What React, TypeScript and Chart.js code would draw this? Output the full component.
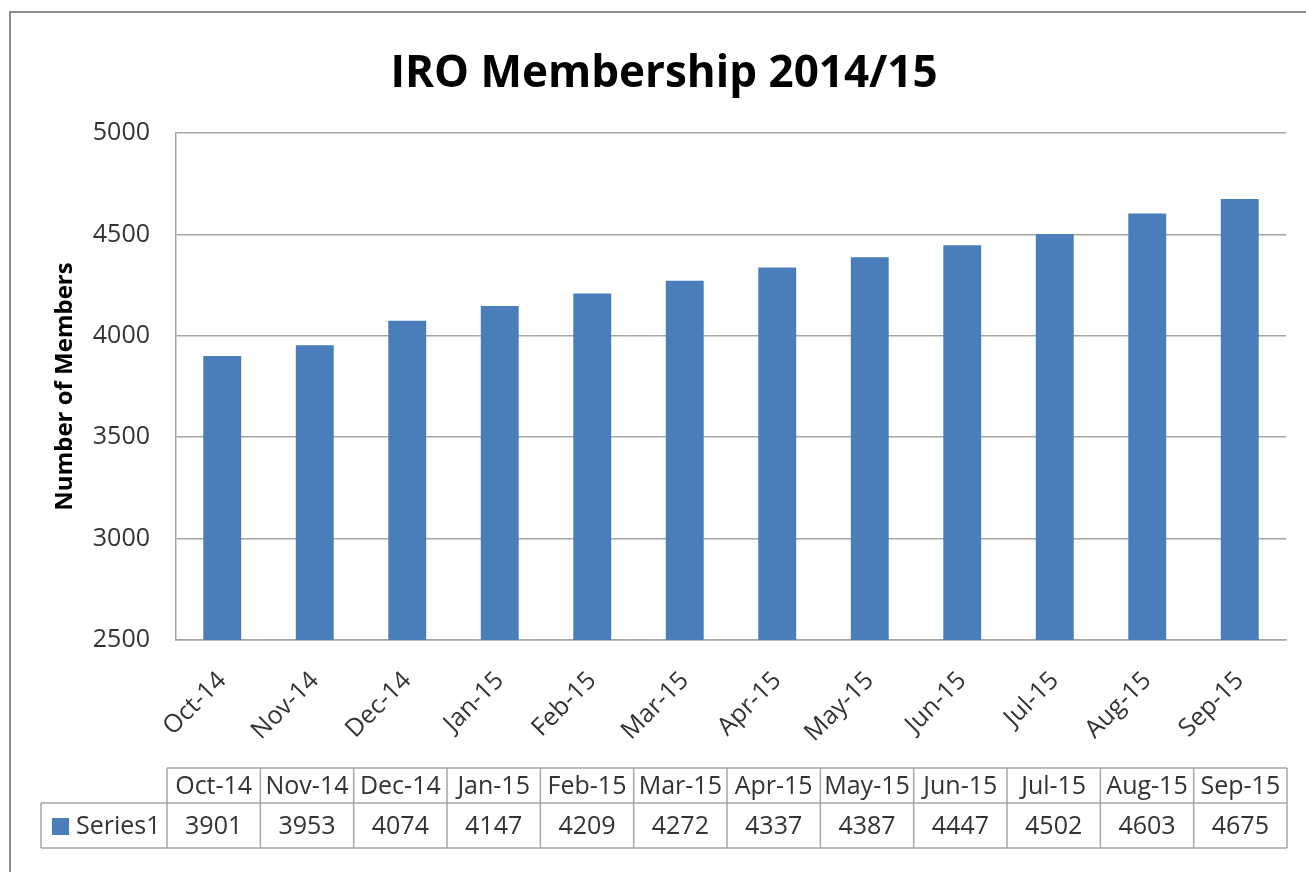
import React, { useEffect, useRef } from "react";
import { Chart, registerables } from "chart.js";

Chart.register(...registerables);

const categories = ["Oct-14", "Nov-14", "Dec-14", "Jan-15", "Feb-15", "Mar-15", "Apr-15", "May-15", "Jun-15", "Jul-15", "Aug-15", "Sep-15"];
const members = [3901, 3953, 4074, 4147, 4209, 4272, 4337, 4387, 4447, 4502, 4603, 4675];
const seriesName = "Series1";
const chartTitle = "IRO Membership 2014/15";
const yAxisTitle = "Number of Members";
const yMin = 2500;
const yMax = 5000;
const yStep = 500;

const BAR = "#4a7ebb";
const GRID = "#a6a6a6";
const TEXT = "#333333";
const FONT = '"Open Sans", "Liberation Sans", sans-serif';

const frame = {
  id: "frame",
  beforeDraw(chart: any) {
    const { ctx, width, height } = chart;
    ctx.save();
    ctx.fillStyle = "#ffffff";
    ctx.fillRect(0, 0, width, height);
    ctx.strokeStyle = "#8c8c8c";
    ctx.lineWidth = 2;
    ctx.beginPath();
    ctx.moveTo(10, height + 2);
    ctx.lineTo(10, 12);
    ctx.lineTo(width + 2, 12);
    ctx.stroke();
    ctx.restore();
  },
};

const dataTable = {
  id: "dataTable",
  afterDraw(chart: any) {
    const { ctx, chartArea } = chart;
    const n = categories.length;
    const left = chartArea.left - 9;
    const right = chartArea.right + 1;
    const colW = (right - left) / n;
    const top = chartArea.bottom + 128;
    const mid = top + 35;
    const bot = mid + 45;
    const labelLeft = 41;
    const line = (x1: number, y1: number, x2: number, y2: number) => {
      ctx.beginPath();
      ctx.moveTo(x1, y1);
      ctx.lineTo(x2, y2);
      ctx.stroke();
    };
    ctx.save();
    ctx.strokeStyle = GRID;
    ctx.lineWidth = 1.5;
    line(left, top, right, top);
    line(labelLeft, mid, right, mid);
    line(labelLeft, bot, right, bot);
    line(labelLeft, mid, labelLeft, bot);
    for (let i = 0; i <= n; i++) {
      const x = left + i * colW;
      line(x, top, x, bot);
    }
    ctx.fillStyle = TEXT;
    ctx.font = `25px ${FONT}`;
    ctx.textAlign = "center";
    ctx.textBaseline = "middle";
    for (let i = 0; i < n; i++) {
      const cx = left + (i + 0.5) * colW;
      ctx.fillText(categories[i], cx, (top + mid) / 2 + 1);
      ctx.fillText(String(members[i]), cx, (mid + bot) / 2 + 1);
    }
    ctx.fillStyle = BAR;
    ctx.fillRect(52, mid + 15, 17, 17);
    ctx.fillStyle = TEXT;
    ctx.textAlign = "left";
    ctx.fillText(seriesName, 76, (mid + bot) / 2 + 1);
    ctx.restore();
  },
};

export default function App() {
  const ref = useRef<HTMLCanvasElement>(null);
  useEffect(() => {
    if (!ref.current) return;
    const chart = new Chart(ref.current, {
      type: "bar",
      data: {
        labels: categories,
        datasets: [
          {
            label: seriesName,
            data: members,
            backgroundColor: BAR,
            borderWidth: 0,
            barPercentage: 0.41,
            categoryPercentage: 1,
          },
        ],
      },
      options: {
        animation: false,
        responsive: false,
        devicePixelRatio: 1,
        layout: { padding: { left: 42, right: 20, top: 0, bottom: 0 } },
        plugins: {
          legend: { display: false },
          tooltip: { enabled: false },
          title: {
            display: true,
            text: chartTitle,
            color: "#000000",
            font: { family: FONT, size: 44, weight: "bold", lineHeight: 1.2 },
            padding: { top: 48.5, bottom: 31.7 },
          },
        },
        scales: {
          x: {
            grid: { display: false },
            border: { display: true, color: GRID, width: 1.5 },
            ticks: {
              color: TEXT,
              font: { family: FONT, size: 25 },
              minRotation: 45,
              maxRotation: 45,
              padding: 18,
              autoSkip: false,
            },
            afterFit(scale: any) {
              scale.height = 232;
            },
          },
          y: {
            min: yMin,
            max: yMax,
            ticks: {
              stepSize: yStep,
              color: TEXT,
              font: { family: FONT, size: 25 },
              padding: 26,
              callback: (v: any) => String(v),
            },
            grid: { color: GRID, lineWidth: 1.5, drawTicks: false },
            border: { display: true, color: GRID, width: 1.5 },
            title: {
              display: true,
              text: yAxisTitle,
              color: "#000000",
              font: { family: FONT, size: 24, weight: "bold", lineHeight: 1.2 },
              padding: { top: 9, bottom: 0 },
            },
            afterFit(scale: any) {
              scale.width = 134;
            },
          },
        },
      },
      plugins: [frame, dataTable],
    });
    return () => chart.destroy();
  }, []);
  return (
    <div style={{ position: "absolute", left: 0, top: 0, width: 1306, height: 872 }}>
      <canvas ref={ref} width={1306} height={872} style={{ display: "block" }} />
    </div>
  );
}
